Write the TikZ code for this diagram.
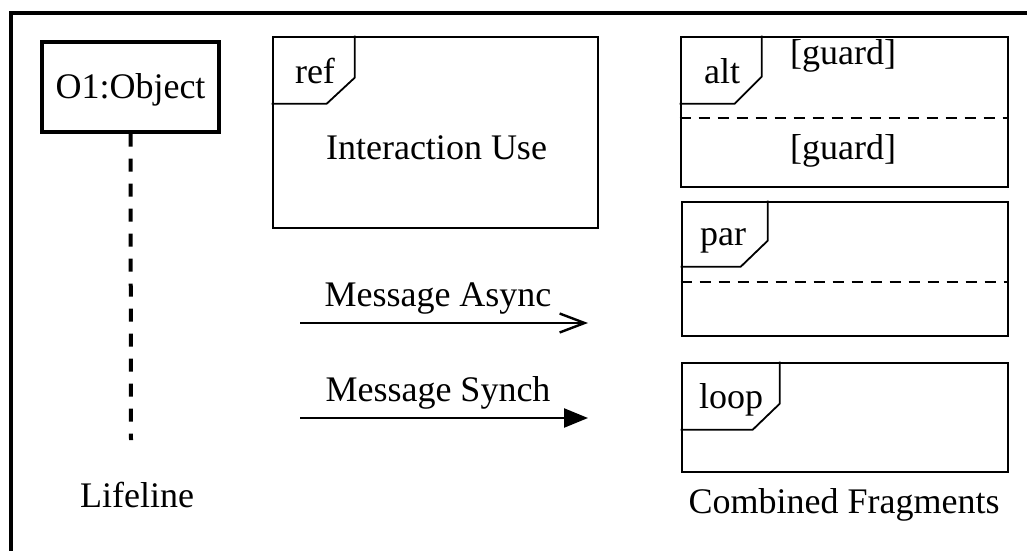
\documentclass[tikz,border=0pt]{standalone}
\usepackage{fontspec}
\setmainfont{Liberation Serif}
\usetikzlibrary{arrows.meta}
\begin{document}
\begin{tikzpicture}[x=1pt,y=-1pt,
  lbl/.style={font=\fontsize{36}{40}\selectfont, inner sep=0pt, anchor=base},
  objbox/.style={draw, line width=3.2pt, minimum width=177pt, minimum height=90pt, inner sep=0pt},
  frame/.style={draw, line width=2.6pt, inner sep=0pt},
  tab/.style={line width=1.8pt, line join=miter},
  sep/.style={line width=2.4pt, dash pattern=on 11pt off 8pt},
  lifeline/.style={line width=4pt, dash pattern=on 13pt off 12pt},
  msg/.style={line width=2.4pt}]
\useasboundingbox (0,0) rectangle (1027,550);
\begin{scope}
\clip (0,0) rectangle (1027,550);
\draw[line width=3.5pt] (11,13) rectangle (1060,580);
\end{scope}
% lifeline
\node[objbox] (obj) at (130.5,87) {};
\node[lbl] (objt) at (130.5,98) {O1:Object};
\coordinate (lifeend) at (131,440);
\draw[lifeline] (obj.south) -- (lifeend);
\node[lbl] (lifet) at (137,507) {Lifeline};
% interaction use
\node[frame, minimum width=325pt, minimum height=191pt] (ref) at (435.5,132.5) {};
\draw[tab] ([xshift=83pt]ref.north west) -- ++(0,42) -- ++(-28,26) -- ([yshift=-68pt]ref.north west);
\node[lbl] (reft) at (315,83) {ref};
\node[lbl] (iut) at (436.5,159) {Interaction Use};
% messages
\coordinate (a1) at (300,323);
\coordinate (a2) at (588,323);
\draw[msg, -{Straight Barb[length=25pt,width=19pt]}] (a1) -- (a2);
\node[lbl] (asynct) at (438,306) {Message Async};
\coordinate (s1) at (300,418);
\coordinate (s2) at (588,418);
\draw[msg, -{Triangle[length=24pt,width=19pt]}] (s1) -- (s2);
\node[lbl] (syncht) at (438,401) {Message Synch};
% alt
\node[frame, minimum width=327pt, minimum height=150pt] (alt) at (844.5,112) {};
\draw[tab] ([xshift=82pt]alt.north west) -- ++(0,41) -- ++(-27,27) -- ([yshift=-68pt]alt.north west);
\draw[sep] ([yshift=-82pt]alt.north west) -- ([yshift=-82pt]alt.north east);
\node[lbl] (altt) at (722,83) {alt};
\node[lbl] (g1) at (843,64) {[guard]};
\node[lbl] (g2) at (843,159) {[guard]};
% par
\node[frame, minimum width=326pt, minimum height=134pt] (par) at (845,269) {};
\draw[tab] ([xshift=87pt]par.north west) -- ++(0,40) -- ++(-27,26) -- ([yshift=-66pt]par.north west);
\draw[sep] ([yshift=-81pt]par.north west) -- ([yshift=-81pt]par.north east);
\node[lbl] (part) at (723,245) {par};
% loop
\node[frame, minimum width=326pt, minimum height=109pt] (loop) at (845,417.5) {};
\draw[tab] ([xshift=99pt]loop.north west) -- ++(0,42) -- ++(-27,26) -- ([yshift=-68pt]loop.north west);
\node[lbl] (loopt) at (731,408) {loop};
\node[lbl] (cft) at (844,513) {Combined Fragments};
\end{tikzpicture}
\end{document}
